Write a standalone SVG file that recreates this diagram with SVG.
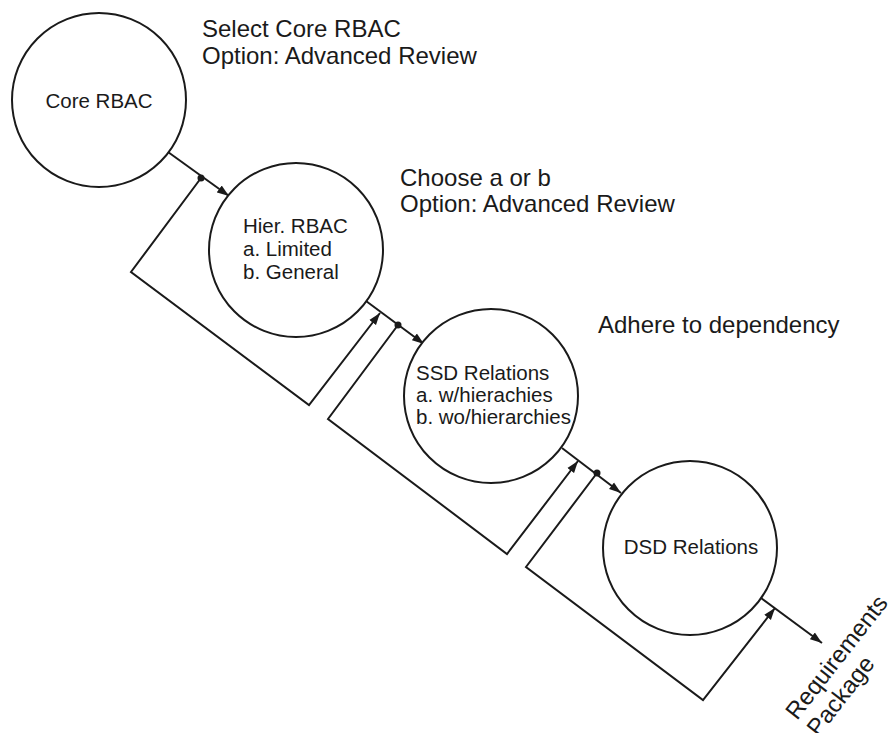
<svg xmlns="http://www.w3.org/2000/svg" width="889" height="733" viewBox="0 0 889 733">
  <style>
    .node { fill: #fff; stroke: #1a1a1a; stroke-width: 2; }
    .lbl { font-family: "Liberation Sans", Arial, sans-serif; font-size: 20.5px; fill: #1a1a1a; }
    .note { font-family: "Liberation Sans", Arial, sans-serif; font-size: 24px; fill: #1a1a1a; }
    .edge { fill: none; stroke: #1a1a1a; stroke-width: 2; stroke-linejoin: miter; }
    .dot { fill: #1a1a1a; }
  </style>
  <defs>
    <marker id="arr" markerUnits="userSpaceOnUse" markerWidth="14" markerHeight="10" refX="12" refY="5" orient="auto">
      <path d="M0,0.8 L12,5 L0,9.2 Z" fill="#1a1a1a"/>
    </marker>
  </defs>
  <rect width="889" height="733" fill="#fff"/>

  <g id="notes">
    <text class="note" x="202" y="37">Select Core RBAC</text>
    <text class="note" x="202" y="64">Option: Advanced Review</text>
    <text class="note" x="400" y="186">Choose a or b</text>
    <text class="note" x="400" y="212">Option: Advanced Review</text>
    <text class="note" x="598" y="333">Adhere to dependency</text>
  </g>

  <g id="connectors">
    <line class="edge" x1="168" y1="152" x2="229" y2="196" marker-end="url(#arr)"/>
    <line class="edge" x1="366" y1="301" x2="424" y2="344" marker-end="url(#arr)"/>
    <line class="edge" x1="562" y1="448" x2="621" y2="493" marker-end="url(#arr)"/>
    <line class="edge" x1="761" y1="598" x2="822" y2="643" marker-end="url(#arr)"/>
    <polyline class="edge" points="201,178 131,272 309,405 380,313" marker-end="url(#arr)"/>
    <polyline class="edge" points="398,325 328,419 507,554 578,461" marker-end="url(#arr)"/>
    <polyline class="edge" points="597,473 526,567 703,700 775,608" marker-end="url(#arr)"/>
    <circle class="dot" cx="201" cy="178" r="3.5"/>
    <circle class="dot" cx="398" cy="325" r="3.5"/>
    <circle class="dot" cx="597" cy="473" r="3.5"/>
  </g>

  <g id="core-rbac">
    <circle class="node" cx="99" cy="100" r="87"/>
    <text class="lbl" x="99" y="108" text-anchor="middle">Core RBAC</text>
  </g>

  <g id="hier-rbac">
    <circle class="node" cx="296" cy="250" r="87"/>
    <text class="lbl" x="243" y="233">Hier. RBAC</text>
    <text class="lbl" x="243" y="256">a. Limited</text>
    <text class="lbl" x="243" y="279">b. General</text>
  </g>

  <g id="ssd-relations">
    <circle class="node" cx="491" cy="396" r="87"/>
    <text class="lbl" x="416" y="380">SSD Relations</text>
    <text class="lbl" x="416" y="402">a. w/hierachies</text>
    <text class="lbl" x="416" y="424">b. wo/hierarchies</text>
  </g>

  <g id="dsd-relations">
    <circle class="node" cx="690" cy="548" r="87"/>
    <text class="lbl" x="691" y="554" text-anchor="middle">DSD Relations</text>
  </g>

  <g id="requirements-package">
    <text class="note" transform="translate(797,721) rotate(-52)">
      <tspan x="0" y="0">Requirements</tspan>
      <tspan x="0" y="27">Package</tspan>
    </text>
  </g>
</svg>
